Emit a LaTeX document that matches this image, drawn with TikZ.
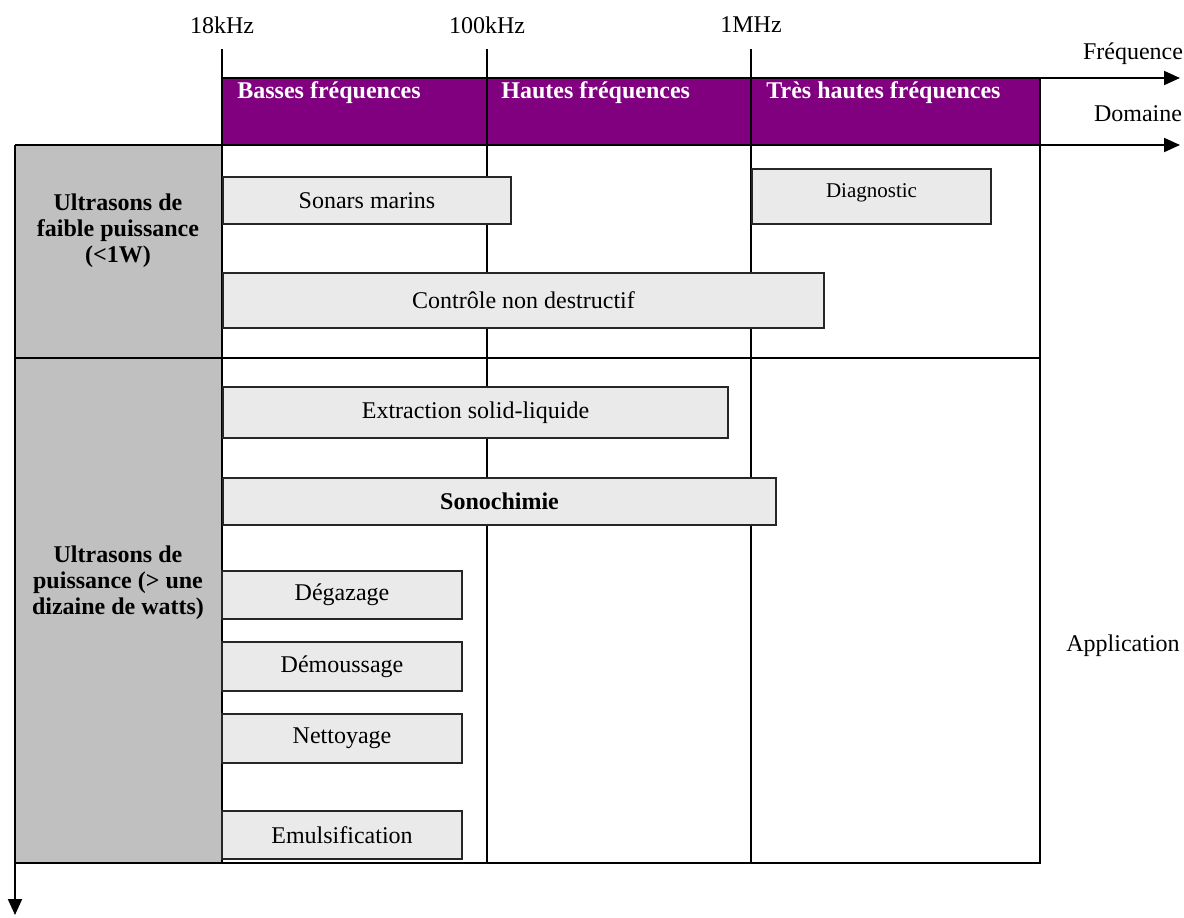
\documentclass[tikz,border=0pt]{standalone}
\usepackage{fontspec}
\setmainfont{Liberation Serif}
\usetikzlibrary{arrows.meta}
\definecolor{hdrpurple}{HTML}{800080}
\definecolor{colgray}{HTML}{C0C0C0}
\definecolor{boxgray}{HTML}{EAEAEA}
% #1 name, #2 x1, #3 y1, #4 x2, #5 y2, #6 text
\newcommand\appbox[6]{%
  \draw[boxst] (#2,#3) rectangle (#4,#5);
  \node[lbl] (#1) at ({(#2+#4)/2},{(#3+#5)/2}) {#6};}
\begin{document}
\begin{tikzpicture}[x=0.5pt,y=-0.5pt,
  gridline/.style={line width=1pt, line cap=rect},
  tickline/.style={line width=0.7pt},
  boxst/.style={draw=black!85, line width=0.8pt, fill=boxgray},
  lbl/.style={font=\fontsize{12}{14}\selectfont, inner sep=0pt},
  hdr/.style={font=\fontsize{12}{14}\selectfont\bfseries, text=white, inner sep=0pt, anchor=west},
  side/.style={font=\fontsize{12}{14}\selectfont\bfseries, align=center, inner sep=0pt},
  axarrow/.style={line width=1pt, -{Triangle[length=8pt,width=7pt]}}]
\useasboundingbox (0,0) rectangle (1184,917);
% fills
\fill[colgray] (15,145) rectangle (222,863);
\fill[hdrpurple] (222,78) rectangle (1040,145);
% coordinates
\coordinate (f0) at (222,78);
\coordinate (f1) at (1180,78);
\coordinate (d0) at (15,145);
\coordinate (d1) at (1180,145);
\coordinate (a0) at (15,145);
\coordinate (a1) at (15,915);
\coordinate (t18) at (222,49);
\coordinate (m18) at (222,78);
\coordinate (b18) at (222,863);
\coordinate (t100) at (487,49);
\coordinate (m100) at (487,78);
\coordinate (b100) at (487,863);
\coordinate (t1M) at (751,49);
\coordinate (m1M) at (751,78);
\coordinate (b1M) at (751,863);
\coordinate (rt) at (1040,78);
\coordinate (rb) at (1040,863);
\coordinate (ml) at (15,358);
\coordinate (mr) at (1040,358);
\coordinate (bl) at (15,863);
\coordinate (br) at (1040,863);
% grid
\draw[tickline] (t18) -- (m18);
\draw[tickline] (t100) -- (m100);
\draw[tickline] (t1M) -- (m1M);
\draw[gridline] (m18) -- (b18);
\draw[gridline] (m100) -- (b100);
\draw[gridline] (m1M) -- (b1M);
\draw[gridline] (rt) -- (rb);
\draw[gridline] (ml) -- (mr);
\draw[gridline] (bl) -- (br);
\draw[axarrow] (f0) -- (f1);
\draw[axarrow] (d0) -- (d1);
\draw[axarrow] (a0) -- (a1);
% frequency labels
\node[lbl] (l18) at (222,25) {18kHz};
\node[lbl] (l100) at (487,25) {100kHz};
\node[lbl] (l1M) at (751,25) {1MHz};
\node[lbl] (lfreq) at (1133,54) {Fréquence};
\node[lbl] (ldom) at (1138,114) {Domaine};
\node[lbl] (lapp) at (1123,646) {Application};
% headers
\node[hdr] (h1) at (237,93) {Basses fréquences};
\node[hdr] (h2) at (501,93) {Hautes fréquences};
\node[hdr] (h3) at (766,93) {Très hautes fréquences};
% side labels
\node[side] (s1) at (118,231) {Ultrasons de\\[-1pt]faible puissance\\[-1pt](<1W)};
\node[side] (s2) at (118,583) {Ultrasons de\\[-1pt]puissance (> une\\[-1pt]dizaine de watts)};
% application boxes
\appbox{sonar}{223}{177}{511}{224}{Sonars marins}
\draw[boxst] (752,169) rectangle (991,224);
\node[lbl, font=\fontsize{10.5}{12}\selectfont] (diag) at (871.5,193) {Diagnostic};
\appbox{cnd}{223}{273}{824}{328}{Contrôle non destructif}
\appbox{extr}{223}{387}{728}{438}{Extraction solid-liquide}
\appbox{sono}{223}{478}{776}{525}{\bfseries Sonochimie}
\appbox{degaz}{222}{571}{462}{619}{Dégazage}
\appbox{demou}{222}{642}{462}{691}{Démoussage}
\appbox{netto}{222}{714}{462}{763}{Nettoyage}
\appbox{emuls}{222}{811}{462}{859}{Emulsification}
\end{tikzpicture}
\end{document}
